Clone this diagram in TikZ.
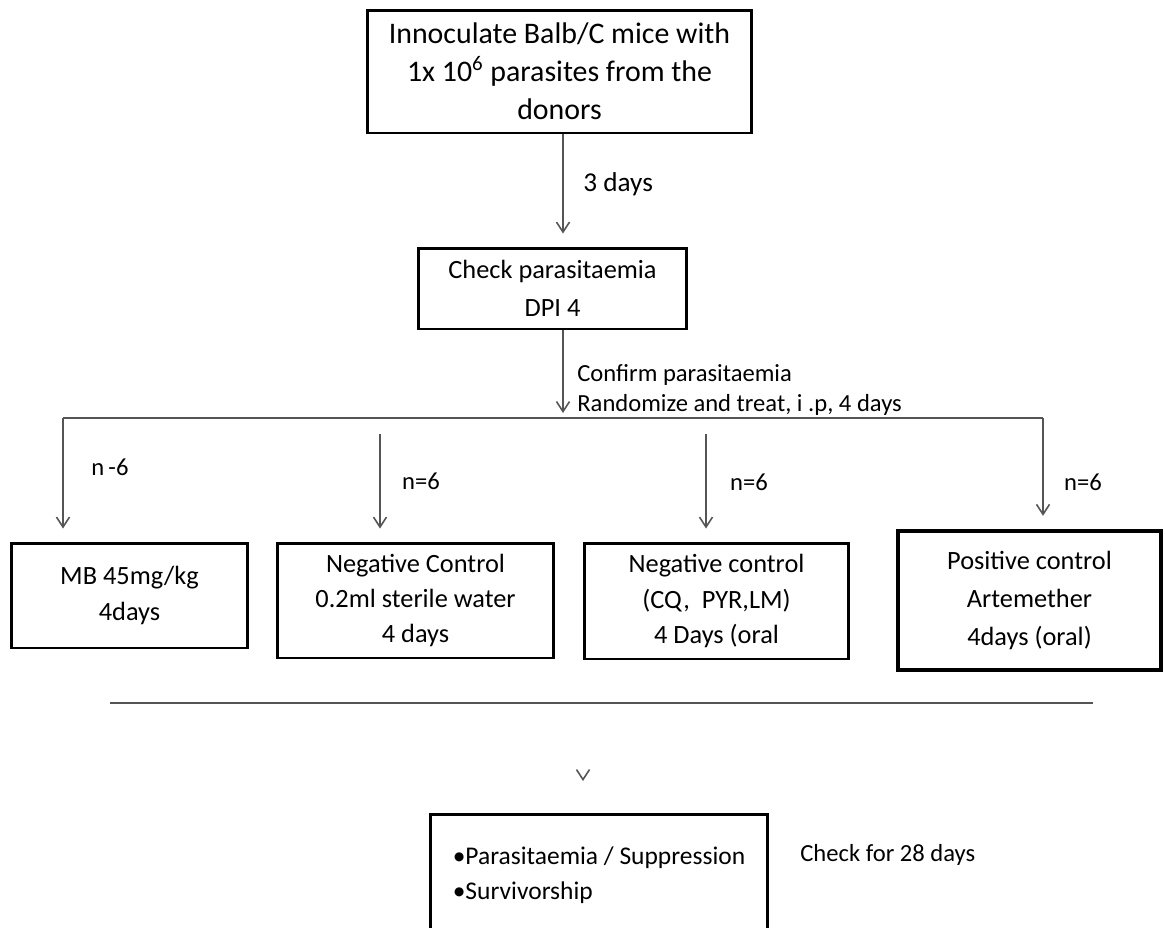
\documentclass[tikz,border=0pt]{standalone}
\usepackage{fontspec}
\setmainfont{Carlito}
\usetikzlibrary{arrows.meta}
\definecolor{lngray}{HTML}{555555}

\begin{document}
\begin{tikzpicture}[x=0.02cm, y=-0.02cm,
    font=\fontsize{14}{20}\selectfont,
    box/.style={draw, rectangle, line width=1.7pt, align=center, inner sep=0pt, font=\fontsize{15}{20}\selectfont},
    arr/.style={draw=lngray, line width=0.9pt, -{Straight Barb[length=2mm,width=2.6mm]}},
    line/.style={draw=lngray, line width=1.3pt},
    lbl/.style={align=left, inner sep=0pt}]
      \clip (0,0) rectangle (1165,927);

      % Nodes
      \node[box, minimum width=7.70cm, minimum height=2.46cm, font=\fontsize{17}{21.5}\selectfont] (inoc) at (559.5,71.5)
        {Innoculate Balb/C mice with\\1x 10\textsuperscript{6} parasites from the\\donors};
      \node[box, minimum width=5.38cm, minimum height=1.62cm, font=\fontsize{15}{21.5}\selectfont] (check) at (552.5,288.5)
        {Check parasitaemia\\DPI 4};
      \node[box, minimum width=4.74cm, minimum height=2.10cm] (mb) at (129.5,595.5)
        {MB 45mg/kg\\4days};
      \node[box, minimum width=5.54cm, minimum height=2.30cm] (negw) at (415.5,600.5)
        {Negative Control\\0.2ml sterile water\\4 days};
      \node[box, minimum width=5.30cm, minimum height=2.32cm] (negd) at (716.5,601)
        {Negative control\\(CQ, \ PYR,LM)\\4 Days (oral};
      \node[box, line width=2.5pt, minimum width=5.26cm, minimum height=2.78cm, font=\fontsize{15}{21.5}\selectfont] (pos) at (1029.5,600.5)
        {Positive control\\Artemether\\4days (oral)};
      \node[box, align=left, minimum width=6.76cm, minimum height=2.44cm, font=\fontsize{14.5}{20}\selectfont] (outc) at (599,875)
        {\textbullet Parasitaemia / Suppression\\\textbullet Survivorship};

      % Coordinates
      \coordinate (split) at (563,418);
      \coordinate (drop1) at (63,418);
      \coordinate (drop4) at (1043,418);
      \coordinate (a2) at (380,434);
      \coordinate (a3) at (706,434);
      \coordinate (div1) at (110,703);
      \coordinate (div2) at (1093,703);
      \coordinate (vbeg) at (583,778);
      \coordinate (vtip) at (583,781);

      % Arrows
      \draw[arr, shorten >=2.6mm] (inoc.south -| split) -- (check.north -| split);
      \draw[arr, shorten >=1mm] (check.south -| split) -- (split);
      \draw[line] (drop1) -- (drop4);
      \draw[arr, shorten >=2.6mm] (drop1) -- (mb.north -| drop1);
      \draw[arr, shorten >=2.6mm] (a2) -- (negw.north -| a2);
      \draw[arr, shorten >=2.6mm] (a3) -- (negd.north -| a3);
      \draw[arr, shorten >=2.6mm] (drop4) -- (pos.north -| drop4);
      \draw[line] (div1) -- (div2);
      \draw[arr] (vbeg) -- (vtip);

      % Annotations
      \node[lbl, anchor=west, font=\fontsize{15.5}{20}\selectfont] (lday) at (583,184) {3 days};
      \node[lbl, anchor=west, font=\fontsize{14}{17}\selectfont] (lrand) at (577,390)
        {Confirm parasitaemia\\Randomize and treat, i .p, 4 days};
      \node[lbl] (ln1) at (110,467) {n\,-6};
      \node[lbl] (ln2) at (421,481) {n=6};
      \node[lbl] (ln3) at (749,482) {n=6};
      \node[lbl] (ln4) at (1083,482) {n=6};
      \node[lbl, anchor=west] (lcheck) at (800,855) {Check for 28 days};
\end{tikzpicture}
\end{document}
